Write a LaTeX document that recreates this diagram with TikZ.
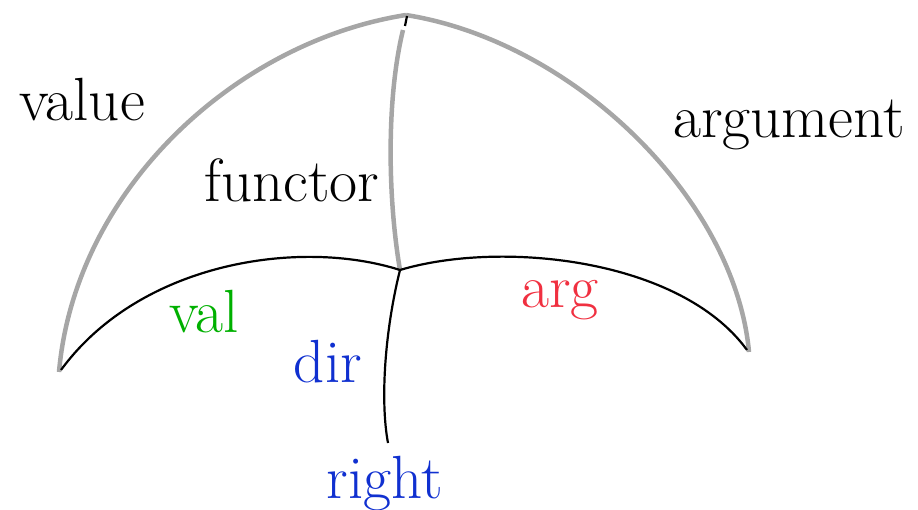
\documentclass[tikz,border=0pt]{standalone}
\begin{document}
\begin{tikzpicture}[x=1pt,y=-1pt,
  greyline/.style={draw={rgb,255:red,166;green,166;blue,166},line width=4.5pt},
  blackline/.style={draw=black,line width=2.2pt},
  lbl/.style={font=\fontsize{61}{66}\selectfont,inner sep=0pt}]
\useasboundingbox (0,0) rectangle (918,510);
\coordinate (T) at (406,15);
\coordinate (L) at (59,372);
\coordinate (R) at (749,352);
\coordinate (C) at (400,270);
\coordinate (Gtop) at (403,30);
\coordinate (B) at (388,443);
\coordinate (D1) at (407,16);
\coordinate (D2) at (405,26);
\draw[greyline] (T) .. controls (235,42) and (75,190) .. (L);
\draw[greyline] (T) .. controls (575,42) and (735,200) .. (R);
\draw[greyline] (Gtop) .. controls (386,100) and (388,200) .. (C);
\draw[blackline] (D1) -- (D2);
\draw[blackline] (61,370) .. controls (140,262) and (300,238) .. (C);
\draw[blackline] (C) .. controls (500,240) and (680,258) .. (747,350);
\draw[blackline] (C) .. controls (385,330) and (380,400) .. (B);
\node[lbl] (value) at (82,100) {value};
\node[lbl] (functor) at (292,180) {functor};
\node[lbl] (argument) at (789,125) {argument};
\node[lbl,text={rgb,255:red,0;green,176;blue,0}] (val) at (204,312) {val};
\node[lbl,text={rgb,255:red,240;green,48;blue,64}] (arg) at (560,300) {arg};
\node[lbl,text={rgb,255:red,16;green,48;blue,208}] (dir) at (328,362) {dir};
\node[lbl,text={rgb,255:red,16;green,48;blue,208}] (right) at (385,484) {right};
\end{tikzpicture}
\end{document}
